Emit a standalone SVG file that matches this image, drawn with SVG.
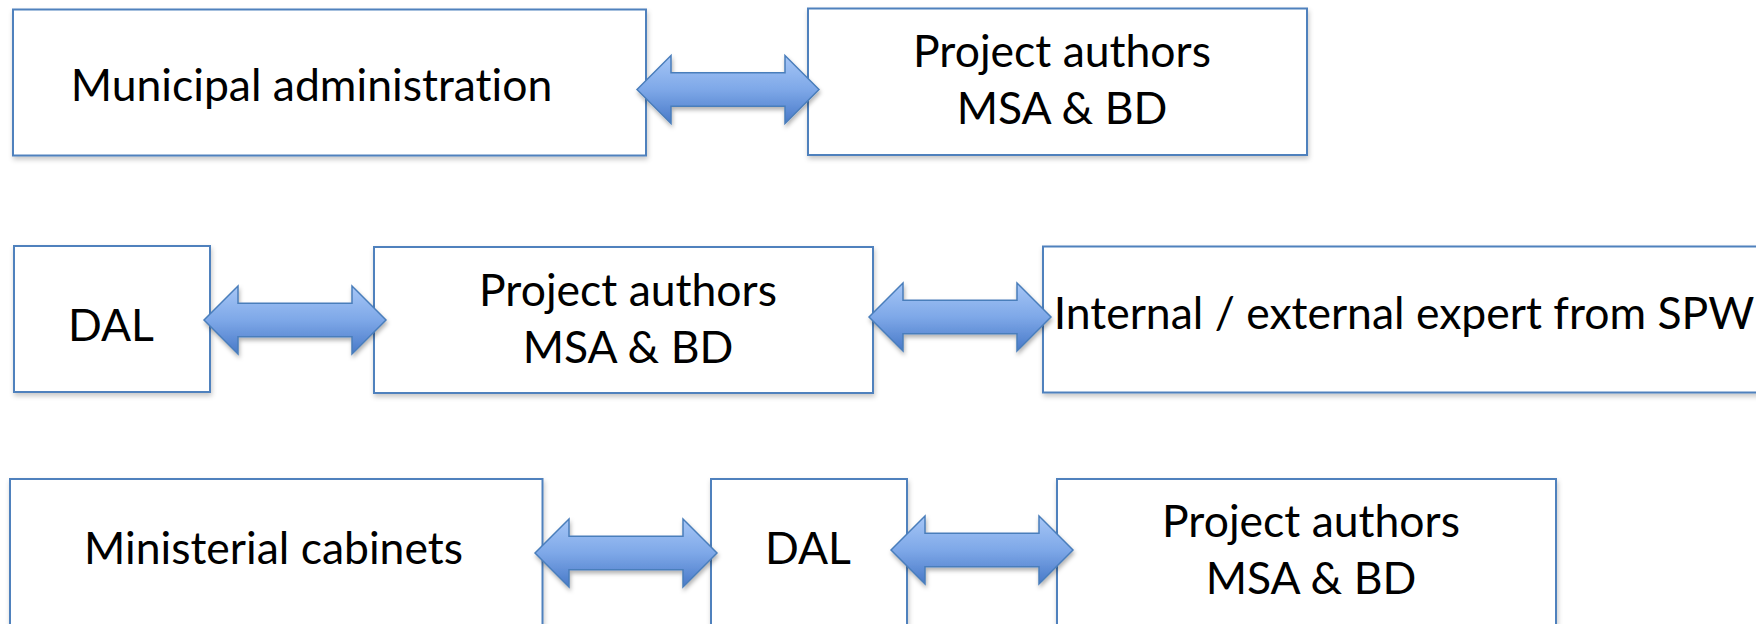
<svg xmlns="http://www.w3.org/2000/svg" width="1756" height="624" viewBox="0 0 1756 624">
  <style>
    .box { fill: #ffffff; stroke: #4f81bd; stroke-width: 2; filter: url(#shadow); }
    .lbl { font-family: "Lato", "Liberation Sans", sans-serif; font-size: 44.5px; fill: #000000; text-anchor: middle; font-variant-ligatures: none; }
    .arrow { fill: url(#arrowGrad); stroke: #4a7ebb; stroke-width: 1.5; stroke-linejoin: miter; filter: url(#ashadow); }
  </style>
  <defs>
    <linearGradient id="arrowGrad" x1="0" y1="0" x2="0" y2="1">
      <stop offset="0" stop-color="#a6c6f6"/>
      <stop offset="0.5" stop-color="#7ea8e8"/>
      <stop offset="1" stop-color="#4879c8"/>
    </linearGradient>
    <filter id="shadow" x="-5%" y="-10%" width="110%" height="125%">
      <feDropShadow dx="1" dy="3" stdDeviation="2.5" flood-color="#000000" flood-opacity="0.22"/>
    </filter>
    <filter id="ashadow" x="-10%" y="-20%" width="120%" height="150%">
      <feDropShadow dx="1" dy="3" stdDeviation="2" flood-color="#000000" flood-opacity="0.3"/>
    </filter>
    <path id="dblArrow" d="M0,0 L34,-34 L34,-16.7 L148,-16.7 L148,-34 L182,0 L148,34 L148,16.7 L34,16.7 L34,34 Z"/>
  </defs>
  <rect width="1756" height="624" fill="#ffffff"/>

  <g id="node-municipal">
    <rect class="box" x="13" y="9.5" width="633" height="146"/>
    <text class="lbl" x="311.5" y="101">Municipal administration</text>
  </g>
  <g id="node-authors-1">
    <rect class="box" x="808" y="8.5" width="499" height="146.5"/>
    <text class="lbl" x="1062" y="67">Project authors</text>
    <text class="lbl" x="1062" y="124">MSA &amp; BD</text>
  </g>

  <g id="node-dal-1">
    <rect class="box" x="14" y="246" width="196" height="146"/>
    <text class="lbl" x="111" y="341">DAL</text>
  </g>
  <g id="node-authors-2">
    <rect class="box" x="374" y="247" width="499" height="146"/>
    <text class="lbl" x="628" y="306">Project authors</text>
    <text class="lbl" x="628" y="363">MSA &amp; BD</text>
  </g>
  <g id="node-expert">
    <rect class="box" x="1043" y="246.5" width="800" height="146"/>
    <text class="lbl" x="1404" y="329">Internal / external expert from SPW</text>
  </g>

  <g id="node-ministerial">
    <rect class="box" x="10" y="479" width="532.5" height="170"/>
    <text class="lbl" x="273.5" y="564">Ministerial cabinets</text>
  </g>
  <g id="node-dal-2">
    <rect class="box" x="711" y="479" width="196" height="170"/>
    <text class="lbl" x="808" y="564">DAL</text>
  </g>
  <g id="node-authors-3">
    <rect class="box" x="1057" y="479" width="499" height="170"/>
    <text class="lbl" x="1311" y="537">Project authors</text>
    <text class="lbl" x="1311" y="594">MSA &amp; BD</text>
  </g>

  <g id="connectors">
    <use href="#dblArrow" class="arrow" transform="translate(637,89.5)"/>
    <use href="#dblArrow" class="arrow" transform="translate(204,320)"/>
    <use href="#dblArrow" class="arrow" transform="translate(869,317)"/>
    <use href="#dblArrow" class="arrow" transform="translate(535,553)"/>
    <use href="#dblArrow" class="arrow" transform="translate(891,550)"/>
  </g>
</svg>
